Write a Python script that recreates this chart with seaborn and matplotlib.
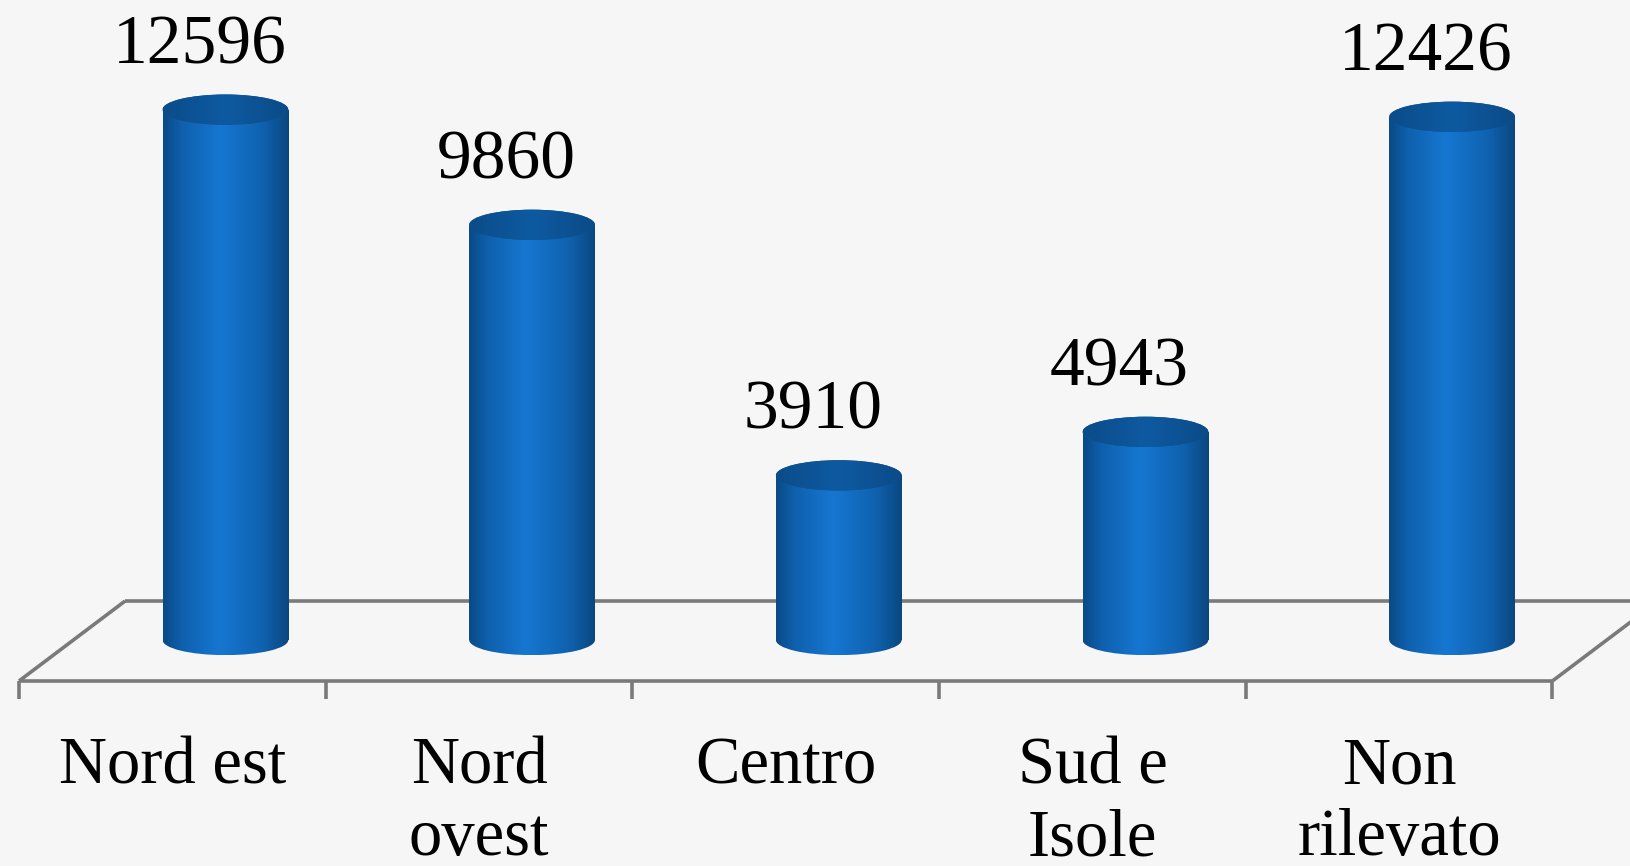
import numpy as np
import matplotlib
matplotlib.use("Agg")
import matplotlib.pyplot as plt
from matplotlib.colors import LinearSegmentedColormap
from matplotlib.patches import Ellipse
import seaborn as sns

#%%     Data
categories = ["Nord est", "Nord\novest", "Centro", "Sud e\nIsole", "Non\nrilevato"]
values = [12596, 9860, 3910, 4943, 12426]

#%%     Style
bg = "#f6f6f6"
sns.set_theme(style="white")
plt.rcParams["font.family"] = ["Liberation Serif", "DejaVu Serif"]

body_cmap = LinearSegmentedColormap.from_list(
    "body", [(0, "#0a4a86"), (0.15, "#0f60ad"), (0.45, "#1677d2"),
             (0.8, "#0f61ae"), (1, "#0a477f")])
top_cmap = LinearSegmentedColormap.from_list(
    "top", [(0, "#0b4c8a"), (0.5, "#0e5aa1"), (1, "#0b4b88")])

bar_w = 0.41
ry = 360          # half height of the ellipses, in data units
shift = 0.173     # depth offset between floor front and cylinder centres
front_y, back_y = -974, 926

#%%     Plot
fig = plt.figure(figsize=(16.3, 8.66), dpi=100)
fig.patch.set_facecolor(bg)
ax = fig.add_axes([0, 0, 1, 1])
ax.set_facecolor(bg)

sns.barplot(x=categories, y=values, width=bar_w, color="#1670c8",
            saturation=1, linewidth=0, ax=ax, zorder=3)

grad = np.linspace(0, 1, 256)[None, :]
for patch, v in zip(ax.patches, values):
    x0 = patch.get_x()
    w = patch.get_width()
    xc = x0 + w / 2
    # body gradient
    im = ax.imshow(grad, cmap=body_cmap, extent=[x0, x0 + w, -ry, v],
                   aspect="auto", zorder=3, interpolation="bicubic")
    im.set_clip_path(patch)
    # rounded bottom
    bot = Ellipse((xc, 0), w, 2 * ry, facecolor="none", edgecolor="none")
    ax.add_patch(bot)
    im2 = ax.imshow(grad, cmap=body_cmap, extent=[x0, x0 + w, -ry, v],
                    aspect="auto", zorder=3, interpolation="bicubic")
    im2.set_clip_path(bot)
    # top cap
    top = Ellipse((xc, v), w, 2 * ry, facecolor="#0d5597", edgecolor="none",
                  zorder=4)
    ax.add_patch(top)
    im3 = ax.imshow(grad, cmap=top_cmap, extent=[x0, x0 + w, v - ry, v + ry],
                    aspect="auto", zorder=4, interpolation="bicubic")
    im3.set_clip_path(top)
    # value label
    ax.text(xc - 0.085, v + 1500, f"{v}", ha="center", va="center",
            fontsize=50, color="black", zorder=5)

# floor of the 3D chart
n = len(categories)
fl, fr = -0.5 - shift, n - 0.5 - shift
bl, br = fl + 2 * shift, fr + 2 * shift
floor_kw = dict(color="#7a7a7a", lw=2.6, zorder=1, solid_capstyle="butt")
ax.plot([fl, fr], [front_y, front_y], **floor_kw)
ax.plot([bl, br], [back_y, back_y], **floor_kw)
ax.plot([fl, bl], [front_y, back_y], **floor_kw)
ax.plot([fr, br], [front_y, back_y], **floor_kw)
for k in range(n + 1):
    ax.plot([fl + k, fl + k], [front_y, -1400], **floor_kw)

# category labels
for i, lab in enumerate(categories):
    ax.text(i - shift, -2300, lab, ha="center", va="top", fontsize=48,
            color="black", linespacing=1.22)

ax.set_xlim(-0.735, 4.58)
ax.set_ylim(-5368, 15200)
ax.axis("off")

fig.savefig("out.png", dpi=100, facecolor=bg)
